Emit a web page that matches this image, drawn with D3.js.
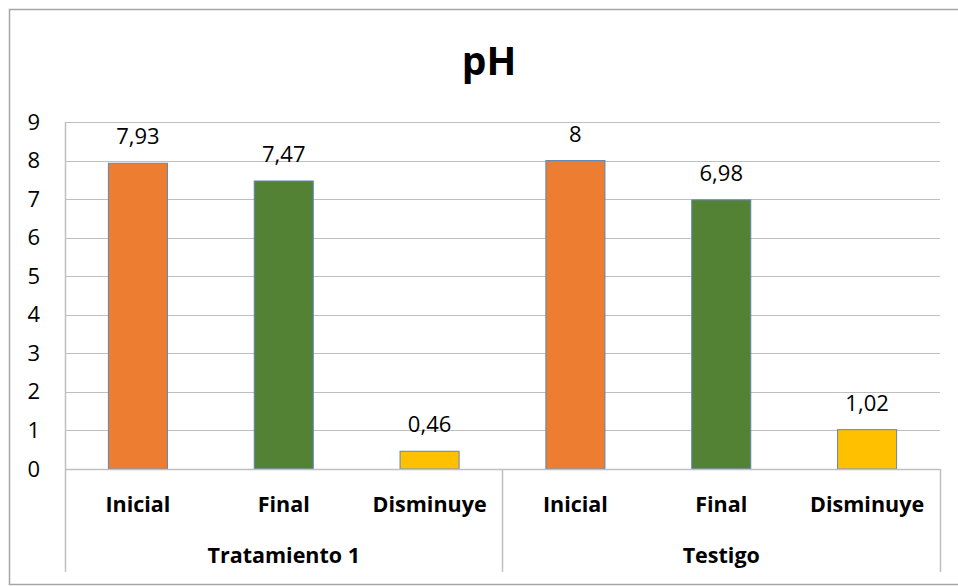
<!DOCTYPE html>
<html>
<head>
<meta charset="utf-8">
<script src="https://cdn.jsdelivr.net/npm/d3@7"></script>
<style>
  body { margin: 0; background: #fff; }
  text { font-family: "Open Sans", "Liberation Sans", sans-serif; fill: #000; }
</style>
</head>
<body>
<div id="chart"></div>
<script>
// chart data
var groups = ["Tratamiento 1", "Testigo"];
var categories = ["Inicial", "Final", "Disminuye"];
var values = [7.93, 7.47, 0.46, 8, 6.98, 1.02];
var valueLabels = ["7,93", "7,47", "0,46", "8", "6,98", "1,02"];
var barColors = ["#ED7D31", "#548235", "#FFC000"];
var yTicks = [0, 1, 2, 3, 4, 5, 6, 7, 8, 9];

var W = 958, H = 586;
var margin = {top: 122, right: 18, bottom: 117, left: 65},
    width = W - margin.left - margin.right,
    height = H - margin.top - margin.bottom;

var svg = d3.select("#chart")
    .append("svg")
    .attr("width", W)
    .attr("height", H);

// outer frame (right side runs off the picture)
svg.append("path")
    .attr("d", "M 980 9.5 H 9.5 V 584.5 H 980")
    .attr("fill", "none")
    .attr("stroke", "#A6A6A6")
    .attr("stroke-width", 1.5);

svg.append("text")
    .attr("x", 489)
    .attr("y", 75)
    .attr("text-anchor", "middle")
    .style("font-size", "39px")
    .style("font-weight", "bold")
    .text("pH");

var g = svg.append("g")
    .attr("transform", `translate(${margin.left}, ${margin.top})`);

// one slot per bar
var keys = [];
groups.forEach((gr, gi) => categories.forEach((c, ci) => keys.push(gi + "-" + ci)));

var x = d3.scaleBand()
    .domain(keys)
    .range([0, width])
    .paddingInner(0.595)
    .paddingOuter(0.2975);

var y = d3.scaleLinear()
    .domain([0, 9])
    .range([height, 0]);

// gridlines
g.append("g")
    .selectAll("line")
    .data(yTicks.slice(1))
    .enter()
    .append("line")
    .attr("x1", 0)
    .attr("x2", width)
    .attr("y1", d => Math.round(y(d)) + 0.5)
    .attr("y2", d => Math.round(y(d)) + 0.5)
    .attr("stroke", "#BFBFBF")
    .attr("stroke-width", 1.2);

// y axis labels
var yAxis = g.append("g")
    .call(d3.axisLeft(y).tickValues(yTicks).tickSize(0).tickPadding(25));
yAxis.select(".domain").remove();
yAxis.selectAll("text")
    .style("font-size", "22px")
    .style("font-family", "\"Open Sans\", sans-serif")
    .attr("fill", "#000");

// bars
var data = values.map((v, i) => ({key: keys[i], value: v, label: valueLabels[i], ci: i % 3}));

g.append("g")
    .selectAll("rect")
    .data(data)
    .enter()
    .append("rect")
    .attr("x", d => x(d.key))
    .attr("y", d => y(d.value))
    .attr("width", x.bandwidth())
    .attr("height", d => height - y(d.value))
    .attr("fill", d => barColors[d.ci])
    .attr("stroke", "#5E86B8")
    .attr("stroke-width", 1);

g.append("g")
    .selectAll("text")
    .data(data)
    .enter()
    .append("text")
    .attr("x", d => x(d.key) + x.bandwidth() / 2)
    .attr("y", d => y(d.value) - 19)
    .attr("text-anchor", "middle")
    .style("font-size", "22px")
    .text(d => d.label);

// left axis line and baseline
g.append("line")
    .attr("x1", 0.5).attr("x2", 0.5)
    .attr("y1", 0).attr("y2", height + 103)
    .attr("stroke", "#BFBFBF").attr("stroke-width", 1.5);
g.append("line")
    .attr("x1", 0).attr("x2", width)
    .attr("y1", height + 0.5).attr("y2", height + 0.5)
    .attr("stroke", "#BFBFBF").attr("stroke-width", 1.5);

// group separators
var step = x.step();
[1, 2].forEach(k => {
    var sx = Math.round(x(keys[0]) - x.paddingOuter() * step + k * 3 * step) + 0.5;
    g.append("line")
        .attr("x1", sx).attr("x2", sx)
        .attr("y1", height).attr("y2", height + 103)
        .attr("stroke", "#BFBFBF").attr("stroke-width", 1.5);
});

// category labels
g.append("g")
    .selectAll("text")
    .data(data)
    .enter()
    .append("text")
    .attr("x", d => x(d.key) + x.bandwidth() / 2)
    .attr("y", height + 43)
    .attr("text-anchor", "middle")
    .style("font-size", "21.5px")
    .style("font-weight", "bold")
    .text(d => categories[d.ci]);

// group labels
g.append("g")
    .selectAll("text")
    .data(groups)
    .enter()
    .append("text")
    .attr("x", (d, i) => (i * 3 + 1.5) * width / 6)
    .attr("y", height + 94)
    .attr("text-anchor", "middle")
    .style("font-size", "21.5px")
    .style("font-weight", "bold")
    .text(d => d);
</script>
</body>
</html>
